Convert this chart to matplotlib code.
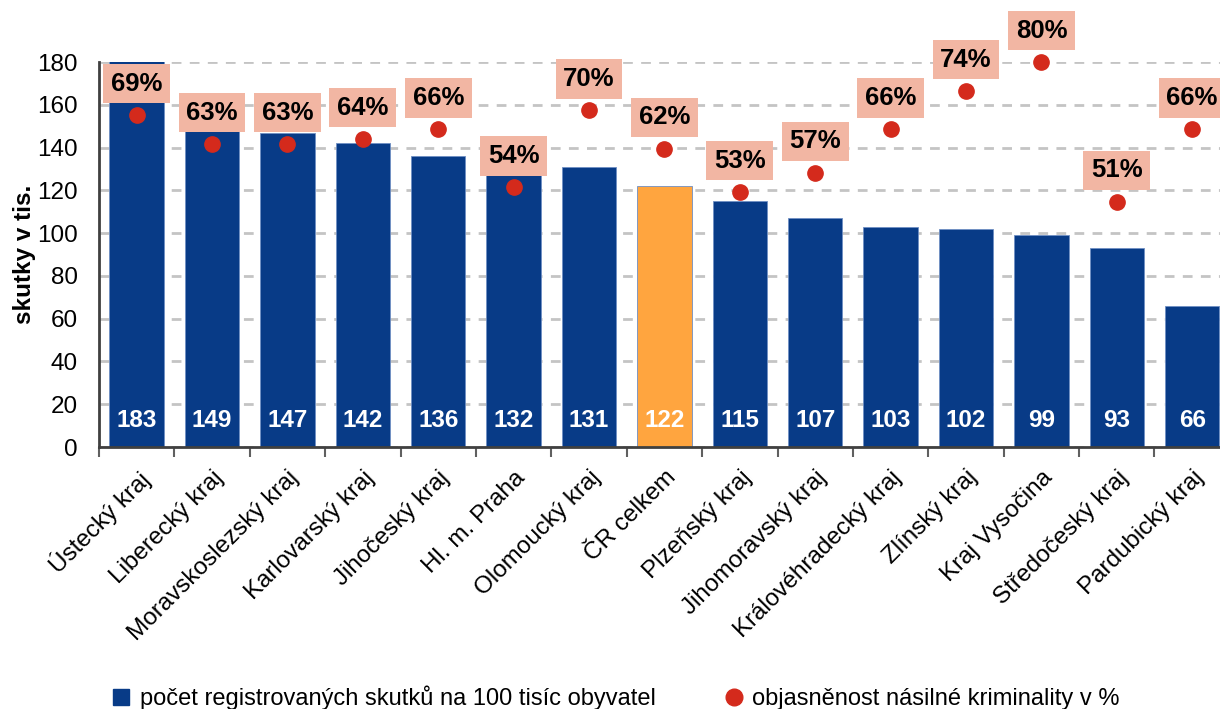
import matplotlib
matplotlib.use("Agg")
import matplotlib.pyplot as plt
from matplotlib.lines import Line2D
from matplotlib.ticker import MultipleLocator, FixedLocator

plt.rcParams['font.family'] = ['Liberation Sans', 'DejaVu Sans']

kraje = ['Ústecký kraj', 'Liberecký kraj', 'Moravskoslezský kraj', 'Karlovarský kraj',
         'Jihočeský kraj', 'Hl. m. Praha', 'Olomoucký kraj', 'ČR celkem', 'Plzeňský kraj',
         'Jihomoravský kraj', 'Královéhradecký kraj', 'Zlínský kraj', 'Kraj Vysočina',
         'Středočeský kraj', 'Pardubický kraj']
skutky = [183, 149, 147, 142, 136, 132, 131, 122, 115, 107, 103, 102, 99, 93, 66]
objasnenost = [69, 63, 63, 64, 66, 54, 70, 62, 53, 57, 66, 74, 80, 51, 66]

modra = '#083b87'
oranzova = '#ffa53f'
cervena = '#d42a1c'
ruzova = '#f2b6a3'

fig = plt.figure(figsize=(12.2, 7.09), dpi=100)
ax = fig.add_axes([0.0811, 0.3695, 0.927, 0.543])

x = list(range(len(kraje)))
barvy = [oranzova if k == 'ČR celkem' else modra for k in kraje]
ax.bar(x, skutky, width=0.72, color=barvy, edgecolor='#6f8fc4', linewidth=0.6, zorder=2)

for xi, v in zip(x, skutky):
    ax.text(xi, 12.5, str(v), ha='center', va='center', color='white',
            fontsize=17.5, fontweight='bold', zorder=3)

ax.set_ylim(0, 180)
ax.set_xlim(-0.5, len(kraje) - 0.5)
ax.yaxis.set_major_locator(MultipleLocator(20))
ax.grid(axis='y', color='#c4c4c4', linestyle=(0, (3.5, 3)), linewidth=2, zorder=0)
ax.set_axisbelow(True)

ax.set_xticks(x)
ax.set_xticklabels(kraje, rotation=45, ha='right', rotation_mode='anchor', fontsize=17.5)
ax.xaxis.set_minor_locator(FixedLocator([i - 0.5 for i in range(len(kraje) + 1)]))
ax.tick_params(axis='x', which='major', length=0, pad=14)
ax.tick_params(axis='x', which='minor', length=7, width=1.5, color='#606060', direction='out')
ax.tick_params(axis='y', length=0, labelsize=17.5, pad=15)

for s in ['top', 'right']:
    ax.spines[s].set_visible(False)
for s in ['left', 'bottom']:
    ax.spines[s].set_color('#404040')
    ax.spines[s].set_linewidth(2)

ax.set_ylabel('skutky v tis.', fontsize=17.5, fontweight='bold', labelpad=1)

ax2 = ax.twinx()
ax2.set_ylim(0, 80)
ax2.axis('off')
ax2.plot(x, objasnenost, 'o', color=cervena, markersize=11, clip_on=False, zorder=4)
for xi, p in zip(x, objasnenost):
    ax2.annotate(f'{p}%', (xi, p), xytext=(0, 22.5), textcoords='offset points',
                 ha='center', va='center', fontsize=18.5, fontweight='bold',
                 bbox=dict(boxstyle='square,pad=0.3', fc=ruzova, ec='none'),
                 annotation_clip=False, zorder=5)

handles = [Line2D([], [], marker='s', color=modra, linestyle='none', markersize=11),
           Line2D([], [], marker='o', color=cervena, linestyle='none', markersize=12)]
fig.legend(handles, ['počet registrovaných skutků na 100 tisíc obyvatel',
                     'objasněnost násilné kriminality v %'],
           loc='lower left', bbox_to_anchor=(0.072, -0.032), ncol=2, frameon=False,
           fontsize=17, handletextpad=0.3, columnspacing=2.8, handlelength=1.0)

fig.savefig('out.png', dpi=100)
